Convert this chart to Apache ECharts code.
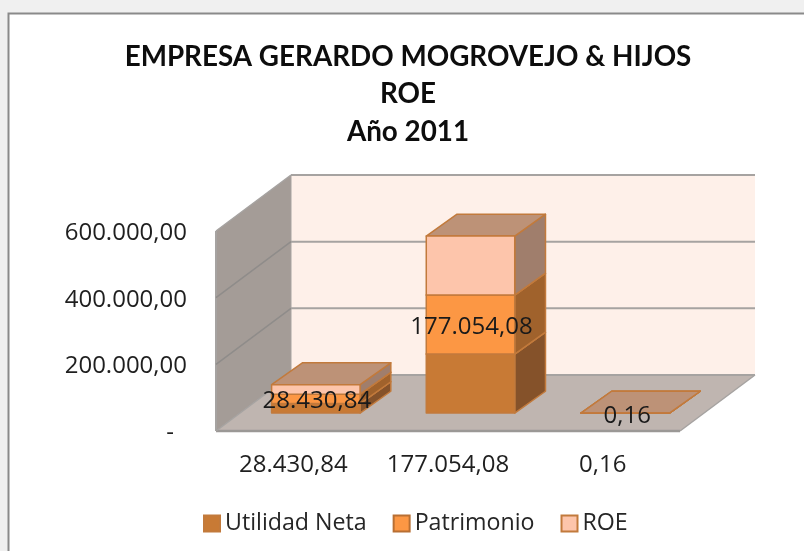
<!DOCTYPE html>
<html><head><meta charset="utf-8">
<style>html,body{margin:0;padding:0;background:#f0f0f0}#c{width:804px;height:551px}</style>
<script src="https://cdn.jsdelivr.net/npm/echarts@6/dist/echarts.min.js"></script>
</head><body><div id="c"></div>
<script>
const categories = ['28.430,84', '177.054,08', '0,16'];
const utilidadNeta = [28430.84, 177054.08, 0.16];
const patrimonio = [28430.84, 177054.08, 0.16];
const roe = [28430.84, 177054.08, 0.16];
const yTicks = [0, 200000, 400000, 600000];
const dataLabels = ['28.430,84', '177.054,08', '0,16'];
const titleLines = ['EMPRESA GERARDO MOGROVEJO & HIJOS', 'ROE', 'Año 2011'];

const DX = 75, DY = -56;
const BAR_W = 0.572, BAR_IN = 0.32, BAR_DEPTH_X = 0.41, BAR_DEPTH_Y = 0.39;
const AXIS_FONT = 'Open Sans';

function poly(points, fill, stroke, lw, z2) {
  return { type: 'polygon', shape: { points }, z2: z2 || 0,
    style: { fill, stroke: stroke || null, lineWidth: lw || 0, lineJoin: 'round' } };
}
function line(a, b, stroke, lw, z2) {
  return { type: 'line', shape: { x1: a[0], y1: a[1], x2: b[0], y2: b[1] }, z2: z2 || 0,
    style: { stroke, lineWidth: lw } };
}
function wallsItem(params, api) {
  const cs = params.coordSys, L = cs.x, R = cs.x + cs.width;
  const B = api.coord([0, yTicks[0]])[1], T = api.coord([0, yTicks[yTicks.length - 1]])[1];
  const edge = '#a6a3a1';
  const ch = [
    poly([[L + DX, T + DY], [R + DX, T + DY], [R + DX, B + DY], [L + DX, B + DY]], '#fef0e9'),
    poly([[L, T], [L + DX, T + DY], [L + DX, B + DY], [L, B]], '#a49c97'),
    poly([[L, B], [L + DX, B + DY], [R + DX, B + DY], [R, B]], '#bfb5b0'),
    line([L + DX, T + DY], [R + DX, T + DY], edge, 2),
    line([L + DX, T + DY], [L + DX, B + DY], edge, 1),
    line([L, T], [L + DX, T + DY], edge, 1.5),
    line([L, T], [L, B], edge, 2),
    line([L, B], [R, B], '#9b9896', 2.5),
    line([L + DX, B + DY], [R + DX, B + DY], edge, 2),
    line([R, B], [R + DX, B + DY], edge, 1.5),
    line([L, B], [L + DX, B + DY], edge, 1.5)
  ];
  yTicks.slice(1, -1).forEach(v => {
    const y = api.coord([0, v])[1];
    ch.push(line([L, y], [L + DX, y + DY], '#8f8c8a', 1.5));
    ch.push(line([L + DX, y + DY], [R + DX, y + DY], edge, 2));
  });
  return { type: 'group', children: ch };
}
function barRenderer(stackBelow, values, colors, labels) {
  return function (params, api) {
    const i = api.value(0);
    const base = stackBelow.reduce((s, a) => s + a[i], 0), top = base + values[i];
    const band = api.size([1, 0])[0], w = band * BAR_W;
    const c0 = api.coord([i, base]), c1 = api.coord([i, top]);
    const x0 = c0[0] - w / 2 + 22.5, x1 = x0 + w;
    const oy = DY * BAR_IN;
    const y0 = c0[1] + oy, y1 = c1[1] + oy;
    const ddx = DX * BAR_DEPTH_X, ddy = DY * BAR_DEPTH_Y;
    const st = '#c27a3c';
    const ch = [
      poly([[x1, y0], [x1 + ddx, y0 + ddy], [x1 + ddx, y1 + ddy], [x1, y1]], colors.side, st, 1.5),
      poly([[x0, y1], [x0 + ddx, y1 + ddy], [x1 + ddx, y1 + ddy], [x1, y1]], colors.top, st, 1.5),
      poly([[x0, y0], [x1, y0], [x1, y1], [x0, y1]], colors.front, st, 1.5)
    ];
    if (labels) {
      ch.push({ type: 'text', z2: 100, style: {
        x: (x0 + x1) / 2 + (i === 2 ? 2 : 1), y: (y0 + y1) / 2 + (i === 2 ? 3 : 2.5),
        text: labels[i], fill: '#1a1a1a', align: 'center', verticalAlign: 'middle',
        font: '24px "' + AXIS_FONT + '"' } });
    }
    return { type: 'group', children: ch };
  };
}
const catIdx = categories.map((_, i) => i);
const barSeries = (name, below, values, colors, labels) => ({
  type: 'custom', name, coordinateSystem: 'cartesian2d',
  data: catIdx.map(i => [i, values[i]]), encode: { x: 0, y: 1 },
  clip: false, silent: true,
  itemStyle: { color: colors.front, borderColor: colors.legendBorder, borderWidth: 2 },
  renderItem: barRenderer(below, values, colors, labels)
});

const chart = echarts.init(document.getElementById('c'), null, { renderer: 'canvas' });
chart.setOption({
  animation: false,
  backgroundColor: '#f0f0f0',
  graphic: [{ type: 'rect', z: -10, shape: { x: 8.5, y: 13.5, width: 820, height: 560 },
    style: { fill: '#fff', stroke: '#8a8a8a', lineWidth: 2 } }],
  title: { text: titleLines.join('\n'), left: 403, top: 33, textAlign: 'center',
    textStyle: { fontFamily: 'Lato', fontWeight: 'bold', fontSize: 27.8, lineHeight: 37.5, color: '#0d0d0d' } },
  grid: { left: 216, top: 231, width: 464, height: 200, containLabel: false },
  legend: { left: 198, top: 507, icon: 'rect', itemWidth: 16, itemHeight: 16, itemGap: 26, selectedMode: false,
    data: ['Utilidad Neta', 'Patrimonio', 'ROE'],
    textStyle: { fontFamily: AXIS_FONT, fontSize: 23.2, color: '#262626', padding: [0, 0, 0, 0] } },
  xAxis: { type: 'category', data: categories, axisLine: { show: false }, axisTick: { show: false },
    axisLabel: { interval: 0, hideOverlap: false, margin: 22, fontFamily: AXIS_FONT, fontSize: 24, color: '#1f1f1f' } },
  yAxis: { type: 'value', min: yTicks[0], max: yTicks[yTicks.length - 1], interval: 200000,
    axisLine: { show: false }, axisTick: { show: false }, splitLine: { show: false },
    axisLabel: { margin: 29, padding: [4, 0, 0, 0], fontFamily: AXIS_FONT, fontSize: 24, color: '#1f1f1f',
      formatter: v => v === 0 ? '{dash|-}' : v.toLocaleString('de-DE', { minimumFractionDigits: 2 }),
      rich: { dash: { padding: [0, 13, 0, 0], fontFamily: AXIS_FONT, fontSize: 24, color: '#1f1f1f' } } } },
  series: [
    { type: 'custom', name: 'walls', coordinateSystem: 'cartesian2d', data: [[0, 0]], clip: false, silent: true, z: 1,
      renderItem: wallsItem },
    Object.assign(barSeries('Utilidad Neta', [], utilidadNeta,
      { front: '#c87a35', side: '#85522a', top: '#a5673a', legendBorder: '#c27a3c' }), { z: 2 }),
    Object.assign(barSeries('Patrimonio', [utilidadNeta], patrimonio,
      { front: '#fc9744', side: '#a0622c', top: '#b9794a', legendBorder: '#b86f33' }, dataLabels), { z: 2 }),
    Object.assign(barSeries('ROE', [utilidadNeta, patrimonio], roe,
      { front: '#fdc5ab', side: '#a07e6c', top: '#bd9277', legendBorder: '#c27a3c' }), { z: 2 })
  ]
});
</script></body></html>
